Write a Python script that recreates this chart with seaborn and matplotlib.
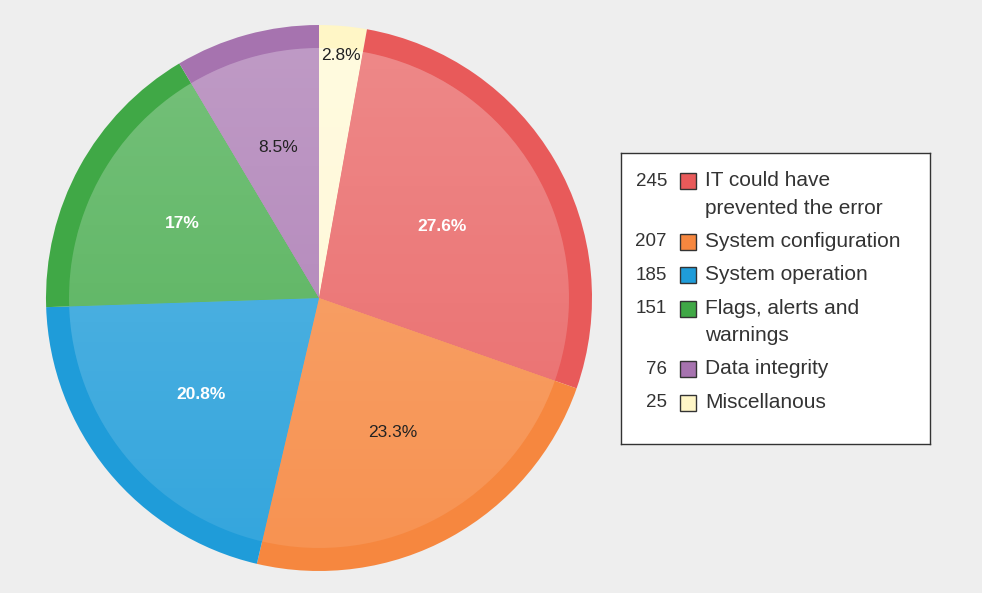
import numpy as np
import matplotlib
matplotlib.use("Agg")
import matplotlib.pyplot as plt
import seaborn as sns
from matplotlib.patches import Rectangle, Circle
from matplotlib.colors import to_rgb

# ---- data ----
categories = ["Miscellanous", "IT could have\nprevented the error", "System configuration",
              "System operation", "Flags, alerts and\nwarnings", "Data integrity"]
counts = [25, 245, 207, 185, 151, 76]
legend_order = [1, 2, 3, 4, 5, 0]
outer_colors = ["#fff6c6", "#e85a5a", "#f6873f", "#1f9cd9", "#40a846", "#a673af"]
label_colors = ["#222222", "white", "#222222", "white", "white", "#222222"]
label_weights = ["normal", "bold", "normal", "bold", "bold", "normal"]
label_dist = [0.89, 0.52, 0.56, 0.56, 0.57, 0.57]

sns.set_style("white")
plt.rcParams['font.family'] = ['Liberation Sans', 'DejaVu Sans']

BG = "#eeeeee"
W, H = 982, 593
fig = plt.figure(figsize=(W / 100, H / 100), dpi=100, facecolor=BG)

cx, cy, R = 319, 298, 273
ax = fig.add_axes([(cx - R) / W, (H - cy - R) / H, 2 * R / W, 2 * R / H])
ax.set_facecolor(BG)

def lighten(c, f):
    r = np.array(to_rgb(c))
    return tuple(r + (1 - r) * f)

inner_colors = [lighten(c, 0.1) for c in outer_colors]
inner_colors[0] = lighten(outer_colors[0], 0.3)

wedges, _ = ax.pie(counts, colors=outer_colors, startangle=90, counterclock=False,
                   radius=1.0, wedgeprops=dict(linewidth=0))
r_in = 250 / 273
wedges_in, _ = ax.pie(counts, colors=inner_colors, startangle=90, counterclock=False,
                      radius=r_in, wedgeprops=dict(linewidth=0))

# soft vertical gradient highlight on the inner disc
grad = np.linspace(0.2, 0.0, 256)[:, None] * np.ones((1, 4))
img = np.ones((256, 4, 4))
img[..., 3] = grad
im = ax.imshow(img, extent=(-r_in, r_in, -r_in, r_in), origin="upper", zorder=3,
               interpolation="bilinear")
clip = Circle((0, 0), r_in, transform=ax.transData)
im.set_clip_path(clip)

total = sum(counts)
for w, n, d, tc, fw in zip(wedges, counts, label_dist, label_colors, label_weights):
    th = np.deg2rad((w.theta1 + w.theta2) / 2)
    pct = 100 * n / total
    s = f"{pct:.1f}".rstrip("0").rstrip(".") + "%"
    ax.text(d * np.cos(th), d * np.sin(th), s, ha="center", va="center",
            fontsize=12.5, color=tc, fontweight=fw, zorder=5)

ax.set_xlim(-1, 1)
ax.set_ylim(-1, 1)
ax.set_aspect("equal")
ax.axis("off")

# ---- legend ----
lx0, ly0, lx1, ly1 = 621, 153, 930, 444
lax = fig.add_axes([lx0 / W, (H - ly1) / H, (lx1 - lx0) / W, (ly1 - ly0) / H])
lax.set_xlim(lx0, lx1)
lax.set_ylim(ly1, ly0)
lax.set_facecolor("white")
for s in lax.spines.values():
    s.set_visible(True)
    s.set_color("#333333")
    s.set_linewidth(1)
lax.set_xticks([])
lax.set_yticks([])

y = 181
line_h = 27
gap = 33.5
for i in legend_order:
    lab = categories[i]
    lax.text(667, y, str(counts[i]), ha="right", va="center", fontsize=13.5, color="#333333")
    lax.add_patch(Rectangle((680, y - 8), 16, 16, facecolor=outer_colors[i],
                            edgecolor="#333333", linewidth=1))
    nl = lab.count("\n") + 1
    for k, part in enumerate(lab.split("\n")):
        lax.text(705, y + k * line_h, part, ha="left", va="center", fontsize=15,
                 color="#333333")
    y += (nl - 1) * line_h + gap

fig.savefig("out.png", dpi=100, facecolor=BG)
